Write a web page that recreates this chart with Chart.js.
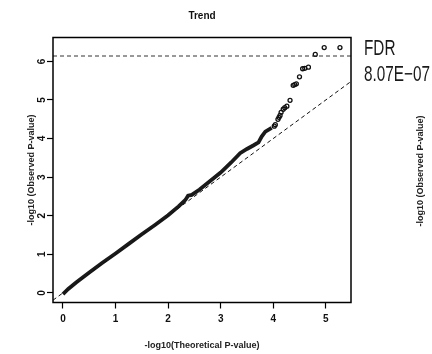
<!DOCTYPE html>
<html>
<head>
<meta charset="utf-8">
<script src="https://cdn.jsdelivr.net/npm/chart.js@4"></script>
<style>
  html, body { margin: 0; padding: 0; background: #fff; }
  #wrap { width: 432px; height: 354px; }
</style>
</head>
<body>
<div id="wrap"><canvas id="qqChart" width="432" height="354"></canvas></div>
<script>
// dense part of the QQ trace
const traceX = [0.00, 0.10, 0.25, 0.50, 0.75, 1.00, 1.25, 1.50, 1.75, 2.00, 2.20, 2.33, 2.38, 2.45, 2.60, 2.80, 3.00, 3.20, 3.37, 3.50, 3.62, 3.72, 3.78, 3.85, 3.97];
const traceY = [-0.03, 0.10, 0.27, 0.53, 0.78, 1.02, 1.27, 1.52, 1.76, 2.01, 2.24, 2.41, 2.52, 2.54, 2.68, 2.90, 3.12, 3.38, 3.62, 3.73, 3.82, 3.90, 4.05, 4.18, 4.28];

// sparse upper tail, drawn as open circles
const tailX = [4.02, 4.04, 4.09, 4.11, 4.13, 4.15, 4.19, 4.22, 4.26, 4.32, 4.38, 4.41, 4.44, 4.50, 4.56, 4.60, 4.67, 4.80, 4.97, 5.27];
const tailY = [4.32, 4.36, 4.50, 4.55, 4.60, 4.68, 4.76, 4.80, 4.84, 4.99, 5.38, 5.40, 5.42, 5.60, 5.81, 5.82, 5.85, 6.18, 6.36, 6.36];

// expected line y = x and FDR threshold
const expX = [-0.19, 5.48];
const expY = [-0.19, 5.48];
const fdrValue = 6.14;
const fdrLabel = ['FDR', '8.07E\u221207'];

const xTicks = [0, 1, 2, 3, 4, 5];
const yTicks = [0, 1, 2, 3, 4, 5, 6];

const font = '"Liberation Sans", Arial, sans-serif';
const zip = (xs, ys) => xs.map((x, i) => ({ x: x, y: ys[i] }));

// cadre + texte de droite
const extras = {
    id: 'extras',
    afterDraw(chart) {
        const ctx = chart.ctx;
        const a = chart.chartArea;
        ctx.save();
        ctx.strokeStyle = '#000';
        ctx.lineWidth = 1.5;
        ctx.strokeRect(a.left, a.top, a.right - a.left, a.bottom - a.top);

        ctx.fillStyle = '#1a1a1a';
        ctx.textAlign = 'left';
        ctx.textBaseline = 'middle';
        ctx.font = '17px ' + font;
        ctx.save();
        ctx.translate(364, 49);
        ctx.scale(0.9, 1.25);
        ctx.fillText(fdrLabel[0], 0, 0);
        ctx.restore();
        ctx.save();
        ctx.translate(364, 75);
        ctx.scale(0.9, 1.25);
        ctx.fillText(fdrLabel[1], 0, 0);
        ctx.restore();

        ctx.save();
        ctx.translate(421, 171);
        ctx.rotate(-Math.PI / 2);
        ctx.textAlign = 'center';
        ctx.font = 'bold 9px ' + font;
        ctx.fillStyle = '#222';
        ctx.fillText('-log10 (Observed P-value)', 0, 0);
        ctx.restore();
        ctx.restore();
    }
};

const ctx = document.getElementById('qqChart').getContext('2d');
new Chart(ctx, {
    type: 'scatter',
    data: {
        datasets: [
            {
                label: 'FDR',
                data: zip(expX, expX.map(() => fdrValue)),
                showLine: true,
                borderColor: '#333',
                borderWidth: 1,
                borderDash: [4, 3],
                pointRadius: 0
            },
            {
                label: 'Expected',
                data: zip(expX, expY),
                showLine: true,
                borderColor: '#111',
                borderWidth: 1,
                borderDash: [4, 3],
                pointRadius: 0
            },
            {
                label: 'Observed',
                data: zip(traceX, traceY),
                showLine: true,
                borderColor: '#1a1a1a',
                borderWidth: 3.8,
                tension: 0,
                pointRadius: 0
            },
            {
                label: 'Tail',
                data: zip(tailX, tailY),
                pointRadius: 2,
                pointBorderWidth: 1.3,
                pointBorderColor: '#111',
                pointBackgroundColor: 'rgba(255,255,255,0)'
            }
        ]
    },
    options: {
        responsive: false,
        animation: false,
        layout: { padding: { left: 0, right: 81, top: 0, bottom: 0 } },
        plugins: {
            legend: { display: false },
            tooltip: { enabled: false },
            title: {
                display: true,
                text: 'Trend',
                fullSize: false,
                color: '#111',
                font: { family: font, size: 10, weight: 'bold' },
                padding: { top: 10, bottom: 15.5 }
            }
        },
        scales: {
            x: {
                type: 'linear',
                min: -0.19,
                max: 5.48,
                afterFit: (s) => { s.height = 51.5; },
                afterBuildTicks: (s) => { s.ticks = xTicks.map(v => ({ value: v })); },
                border: { display: false },
                grid: { drawOnChartArea: false, drawTicks: true, tickLength: 6, color: '#000', tickWidth: 1.2 },
                ticks: { color: '#111', padding: 5, font: { family: font, size: 10, weight: 'bold' } },
                title: {
                    display: true,
                    text: '-log10(Theoretical P-value)',
                    color: '#222',
                    font: { family: font, size: 9, weight: 'bold' },
                    padding: { top: 0, bottom: 3 }
                }
            },
            y: {
                type: 'linear',
                min: -0.25,
                max: 6.62,
                afterFit: (s) => { s.width = 53; },
                afterBuildTicks: (s) => { s.ticks = yTicks.map(v => ({ value: v })); },
                border: { display: false },
                grid: { drawOnChartArea: false, drawTicks: true, tickLength: 6, color: '#000', tickWidth: 1.2 },
                ticks: {
                    color: '#111',
                    padding: 2,
                    minRotation: 90,
                    maxRotation: 90,
                    crossAlign: 'center',
                    font: { family: font, size: 10, weight: 'bold' }
                },
                title: {
                    display: true,
                    text: '-log10 (Observed P-value)',
                    color: '#222',
                    font: { family: font, size: 9, weight: 'bold' },
                    padding: { top: 26, bottom: 0 }
                }
            }
        }
    },
    plugins: [extras]
});
</script>
</body>
</html>
